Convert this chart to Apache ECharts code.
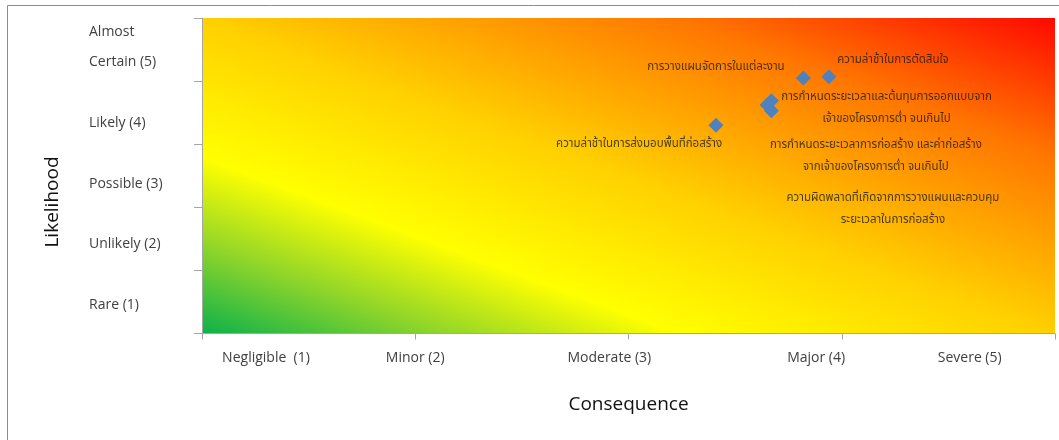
<!DOCTYPE html>
<html>
<head>
<meta charset="utf-8">
<title>Risk matrix</title>
<script src="https://cdn.jsdelivr.net/npm/echarts@6/dist/echarts.min.js"></script>
<style>
  html, body { margin: 0; padding: 0; background: #ffffff; }
  #chart { width: 1059px; height: 440px; }
</style>
</head>
<body>
<div id="chart"></div>
<script>
// Axis category labels and the axis value each one is centred on
const consequenceLabels = ['Negligible  (1)', 'Minor (2)', 'Moderate (3)', 'Major (4)', 'Severe (5)'];
const consequenceLabelAt = [1.30, 2.00, 2.91, 3.88, 4.60];
const likelihoodLabels = ['Rare (1)', 'Unlikely (2)', 'Possible (3)', 'Likely (4)', 'Almost\nCertain (5)'];
const likelihoodLabelAt = [0.45, 1.42, 2.37, 3.34, 4.54];

// Risk factors: mean consequence and mean likelihood scores
const riskConsequence = [3.82, 3.94, 3.65, 3.67, 3.67, 3.41];
const riskLikelihood = [4.05, 4.07, 3.62, 3.69, 3.53, 3.30];

// Risk factor captions
const riskNotes = [
  'การวางแผนจัดการในแต่ละงาน',
  'ความล่าช้าในการตัดสินใจ',
  'การกำหนดระยะเวลาและต้นทุนการออกแบบจาก\nเจ้าของโครงการต่ำ จนเกินไป',
  'ความล่าช้าในการส่งมอบพื้นที่ก่อสร้าง',
  'การกำหนดระยะเวลาการก่อสร้าง และค่าก่อสร้าง\nจากเจ้าของโครงการต่ำ จนเกินไป',
  'ความผิดพลาดที่เกิดจากการวางแผนและควบคุม\nระยะเวลาในการก่อสร้าง'
];
// Where each caption is centred, in axis units (consequence, likelihood)
const noteAnchorX = [3.41, 4.24, 4.21, 3.05, 4.16, 4.24];
const noteAnchorY = [4.22, 4.33, 3.57, 2.99, 2.81, 1.96];

const W = 1059, H = 440;
const GRID = { left: 202, right: 4, top: 18, bottom: 106.5 };

// Diagonal heat gradient whose colour bands run parallel to the
// top-left / bottom-right diagonal of the plot area.
const gw = W - GRID.left - GRID.right;
const gh = H - GRID.top - GRID.bottom;
const L2 = gw * gw + gh * gh;
const heat = new echarts.graphic.LinearGradient(
  0, 1, 2 * gh * gh / L2, 1 - 2 * gw * gw / L2,
  [
    { offset: 0.00, color: '#0bb14b' },
    { offset: 0.14, color: '#8fd52a' },
    { offset: 0.28, color: '#ffff00' },
    { offset: 0.50, color: '#ffd000' },
    { offset: 0.63, color: '#ffa600' },
    { offset: 0.78, color: '#ff7600' },
    { offset: 1.00, color: '#ff0800' }
  ]
);

const pickLabel = (labels, at) => (v) => {
  for (let i = 0; i < at.length; i++) {
    if (Math.abs(at[i] - v) < 1e-6) return labels[i];
  }
  return '';
};

const axisGrey = '#a6a6a6';
const labelFont = '"Open Sans", "Noto Sans", sans-serif';
const thaiFont = '"Noto Sans Thai", "Noto Sans", "DejaVu Sans", sans-serif';

const chart = echarts.init(document.getElementById('chart'), null, { renderer: 'canvas' });

chart.setOption({
  animation: false,
  backgroundColor: '#ffffff',
  grid: {
    left: GRID.left, right: GRID.right, top: GRID.top, bottom: GRID.bottom,
    show: true, backgroundColor: heat, borderWidth: 0
  },
  xAxis: {
    type: 'value', min: 1, max: 5, interval: 1,
    name: 'Consequence', nameLocation: 'middle', nameGap: 62,
    nameTextStyle: { fontFamily: labelFont, fontSize: 19, color: '#111111' },
    axisLine: { show: true, lineStyle: { color: axisGrey, width: 1 } },
    axisTick: { show: true, inside: false, length: 6, lineStyle: { color: axisGrey } },
    splitLine: { show: false },
    axisLabel: {
      customValues: consequenceLabelAt,
      formatter: pickLabel(consequenceLabels, consequenceLabelAt),
      margin: 18, fontFamily: labelFont, fontSize: 14, color: '#404040'
    }
  },
  yAxis: {
    type: 'value', min: 0, max: 5, interval: 1,
    axisLine: { show: true, lineStyle: { color: axisGrey, width: 1 } },
    axisTick: { show: true, inside: false, length: 8, lineStyle: { color: axisGrey } },
    splitLine: { show: false },
    axisLabel: {
      customValues: likelihoodLabelAt,
      formatter: pickLabel(likelihoodLabels, likelihoodLabelAt),
      margin: 113, align: 'left', verticalAlign: 'middle', lineHeight: 30,
      fontFamily: labelFont, fontSize: 14, color: '#404040'
    }
  },
  graphic: [
    {
      type: 'rect', silent: true, z: -10,
      shape: { x: 7.5, y: 5.5, width: 1200, height: 600 },
      style: { fill: 'none', stroke: '#8c8c8c', lineWidth: 1 }
    },
    {
      type: 'text', silent: true,
      x: 53, y: 202, rotation: Math.PI / 2,
      style: {
        text: 'Likelihood', fontFamily: labelFont, fontSize: 19, fill: '#111111',
        align: 'center', verticalAlign: 'middle'
      }
    }
  ],
  series: [
    {
      name: 'Risk factors',
      type: 'scatter',
      symbol: 'diamond',
      symbolSize: 15,
      itemStyle: { color: '#4f81bd', opacity: 1 },
      data: riskConsequence.map((x, i) => [x, riskLikelihood[i]]),
      z: 3
    },
    {
      name: 'Captions',
      type: 'scatter',
      symbolSize: 0,
      silent: true,
      data: noteAnchorX.map((x, i) => ({ value: [x, noteAnchorY[i]], note: riskNotes[i] })),
      label: {
        show: true, position: 'inside',
        formatter: (p) => p.data.note,
        fontFamily: thaiFont, fontSize: 11.5, lineHeight: 22,
        color: '#1a1a1a', align: 'center', verticalAlign: 'middle'
      },
      z: 4
    }
  ]
});
</script>
</body>
</html>
